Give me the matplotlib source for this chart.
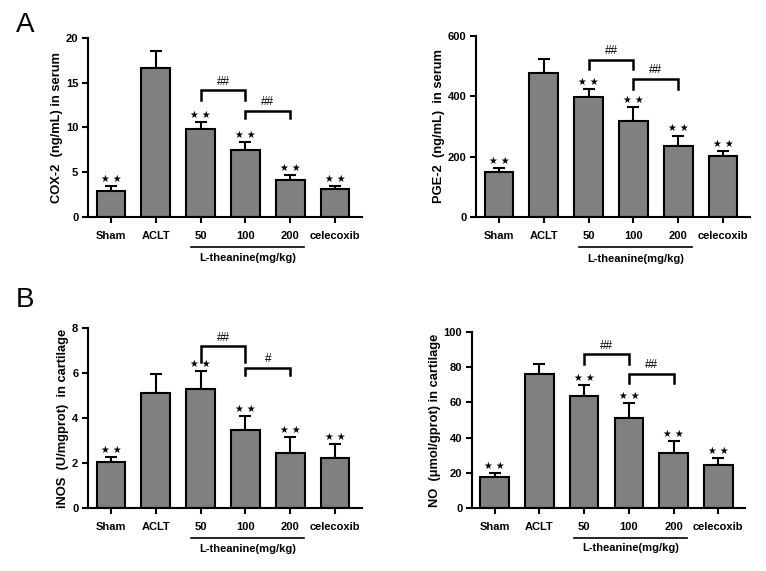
import matplotlib
matplotlib.use("Agg")
import matplotlib.pyplot as plt
import matplotlib.transforms as mtransforms

plt.rcParams['font.family'] = ['Liberation Sans', 'DejaVu Sans']

# group labels shared by all four panels
groups = ['Sham', 'ACLT', '50', '100', '200', 'celecoxib']

# panel data: means and upper error (SD)
cox2_mean = [2.85, 16.7, 9.8, 7.45, 4.1, 3.1]
cox2_err = [0.65, 1.8, 0.85, 0.9, 0.55, 0.38]

pge2_mean = [149, 477, 398, 318, 235, 203]
pge2_err = [13, 48, 26, 46, 35, 17]

inos_mean = [2.03, 5.1, 5.28, 3.46, 2.44, 2.23]
inos_err = [0.25, 0.85, 0.8, 0.63, 0.73, 0.6]

no_mean = [17.4, 76.3, 63.6, 51.1, 31.4, 24.6]
no_err = [2.5, 5.7, 6.4, 8.4, 6.7, 4.0]

# which groups carry the ** mark
star_groups = [0, 2, 3, 4, 5]

# brackets: (from group, to group, bracket level, leg bottom, label)
cox2_brackets = [(2, 3, 14.15, 13.1, '##'), (3, 4, 11.85, 11.05, '##')]
pge2_brackets = [(2, 3, 522, 492, '##'), (3, 4, 459, 425, '##')]
inos_brackets = [(2, 3, 7.19, 6.5, '##'), (3, 4, 6.22, 5.9, '#')]
no_brackets = [(2, 3, 87.3, 82, '##'), (3, 4, 76.3, 71.2, '##')]

fig = plt.figure(figsize=(7.66, 5.71), dpi=100)


def panel(rect, means, errs, brackets, ylabel, ymax, ystep):
    ax = fig.add_axes(rect)
    x = list(range(len(groups)))
    ax.bar(x, means, width=0.64, color='#808080', edgecolor='black',
           linewidth=1.5, zorder=2)
    ax.errorbar(x, means, yerr=[[0] * len(errs), errs], fmt='none',
                ecolor='black', elinewidth=1.5, capsize=4.5, capthick=1.5,
                zorder=1)

    ax.set_xlim(-0.51, 5.6)
    ax.set_ylim(0, ymax)
    ax.set_yticks([ystep * i for i in range(int(round(ymax / ystep)) + 1)])
    ax.set_xticks(x)
    ax.set_xticklabels(groups, fontsize=8, fontweight='bold')
    for lab in ax.get_yticklabels():
        lab.set_fontsize(8)
        lab.set_fontweight('bold')
    ax.tick_params(axis='both', direction='out', length=4, width=1.5, pad=3)
    ax.tick_params(axis='x', pad=6)

    ax.spines['top'].set_visible(False)
    ax.spines['right'].set_visible(False)
    ax.spines['left'].set_linewidth(1.5)
    ax.spines['bottom'].set_linewidth(1.5)

    ax.set_ylabel(ylabel, fontsize=9.3, fontweight='bold', labelpad=2)

    # significance stars
    for i in star_groups:
        ax.annotate('\u2605 \u2605', (i, means[i] + errs[i]),
                    xytext=(0, 1.5), textcoords='offset points',
                    ha='center', va='bottom', fontsize=7,
                    family='DejaVu Sans')

    # comparison brackets
    for a, b, top, leg, label in brackets:
        ax.plot([a, a, b, b], [leg, top, top, leg], color='black',
                linewidth=1.8, solid_joinstyle='miter', clip_on=False)
        ax.text((a + b) / 2, top + ymax * 0.015, label, ha='center',
                va='bottom', fontsize=8.5)

    # L-theanine dose group underline
    trans = mtransforms.blended_transform_factory(ax.transData, ax.transAxes)
    ax.plot([1.78, 4.31], [-0.168, -0.168], color='black', linewidth=1.2,
            transform=trans, clip_on=False)
    ax.text(3.05, -0.23, 'L-theanine(mg/kg)', transform=trans, ha='center',
            va='center', fontsize=8, fontweight='bold')
    return ax


panel([0.1149, 0.620, 0.3577, 0.3135], cox2_mean, cox2_err, cox2_brackets,
      'COX-2  (ng/mL) in serum', 20, 5)
panel([0.6214, 0.620, 0.3577, 0.317], pge2_mean, pge2_err, pge2_brackets,
      'PGE-2  (ng/mL)  in serum', 600, 200)
panel([0.1149, 0.1103, 0.3577, 0.315], inos_mean, inos_err, inos_brackets,
      'iNOS  (U/mgprot)  in cartilage', 8, 2)
panel([0.6162, 0.1103, 0.3564, 0.308], no_mean, no_err, no_brackets,
      'NO  (\u03bcmol/gprot) in cartilage', 100, 20)

fig.text(25 / 766, 1 - 25 / 571, 'A', fontsize=20, ha='center', va='center')
fig.text(25 / 766, 1 - 300 / 571, 'B', fontsize=20, ha='center', va='center')

fig.savefig('out.png', dpi=100)
